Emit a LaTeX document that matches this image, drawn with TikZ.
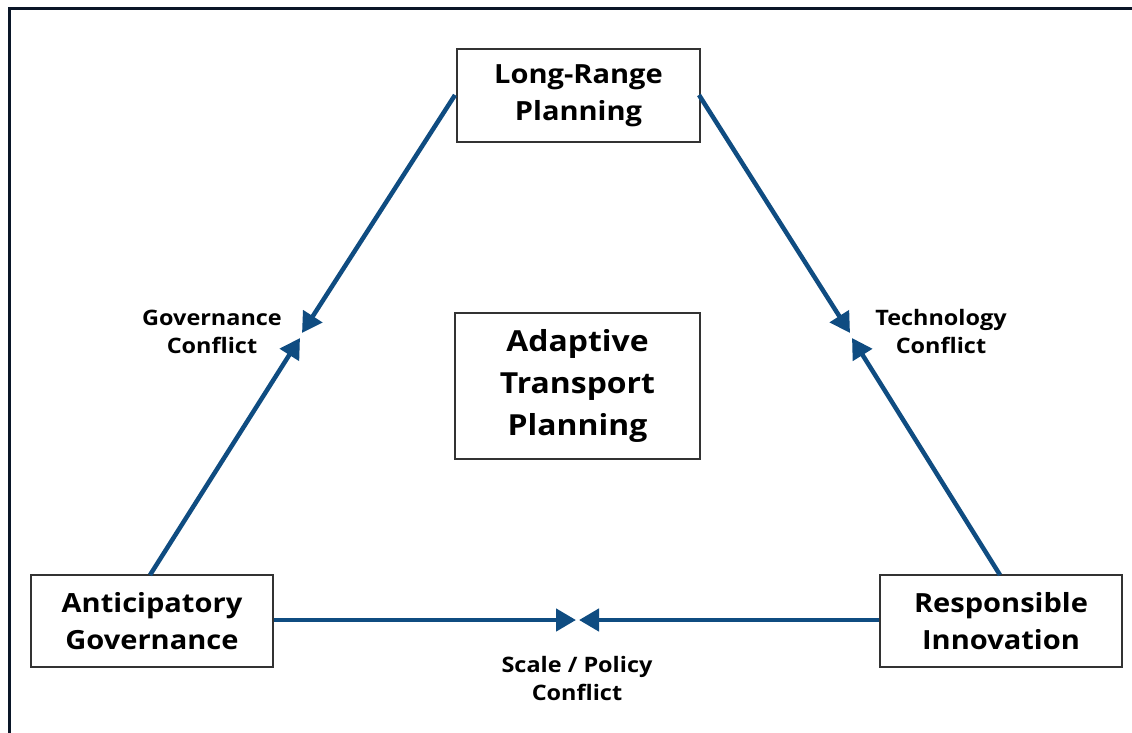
\documentclass[tikz,border=0pt]{standalone}
\usepackage{fontspec}
\setmainfont{Open Sans}[FakeStretch=1.1]
\usetikzlibrary{arrows.meta}
\definecolor{arrowblue}{HTML}{0F4C81}
\definecolor{framenavy}{HTML}{0A1628}
\definecolor{boxgray}{HTML}{333333}
\begin{document}
\begin{tikzpicture}[x=1pt,y=-1pt,
  box/.style={draw=boxgray,line width=1.3pt,fill=white,align=center,inner sep=0pt,font=\bfseries},
  conn/.style={draw=arrowblue,line width=4.5pt,-{Triangle[length=20pt,width=22pt]}},
  lbl/.style={align=center,font=\bfseries\fontsize{21.3}{28}\selectfont}]
\useasboundingbox (0,0) rectangle (1132,732);
\fill[white] (0,0) rectangle (1132,732);
\draw[framenavy,line width=3pt] (9.5,740) -- (9.5,8.5) -- (1140,8.5);
\node[box,minimum width=243pt,minimum height=93pt,font=\bfseries\fontsize{26.4}{37}\selectfont] (lrp) at (578.5,95.5) {Long-Range\\Planning};
\node[box,minimum width=245pt,minimum height=146pt,font=\bfseries\fontsize{29}{42}\selectfont] (atp) at (577.5,386) {Adaptive\\Transport\\Planning};
\node[box,minimum width=242pt,minimum height=92pt,font=\bfseries\fontsize{26.4}{37}\selectfont] (ag) at (152,621) {Anticipatory\\Governance};
\node[box,minimum width=242pt,minimum height=92pt,font=\bfseries\fontsize{26.4}{37}\selectfont] (ri) at (1001,621) {Responsible\\Innovation};
\coordinate (gc1) at (302,333);
\coordinate (gc2) at (300,338);
\coordinate (tc1) at (850,333);
\coordinate (tc2) at (852,338);
\coordinate (sp1) at (576,620);
\coordinate (sp2) at (579,620);
\coordinate (lw) at (455,95);
\coordinate (le) at (699,95);
\coordinate (agt) at (150,575);
\coordinate (rit) at (1000,575);
\draw[conn] (lw) -- (gc1);
\draw[conn] (agt) -- (gc2);
\draw[conn] (le) -- (tc1);
\draw[conn] (rit) -- (tc2);
\draw[conn] (ag.east |- sp1) -- (sp1);
\draw[conn] (ri.west |- sp2) -- (sp2);
\node[lbl] (gcl) at (212,332) {Governance\\Conflict};
\node[lbl] (tcl) at (941,332) {Technology\\Conflict};
\node[lbl] (spl) at (577,678) {Scale / Policy\\Conflict};
\end{tikzpicture}
\end{document}
